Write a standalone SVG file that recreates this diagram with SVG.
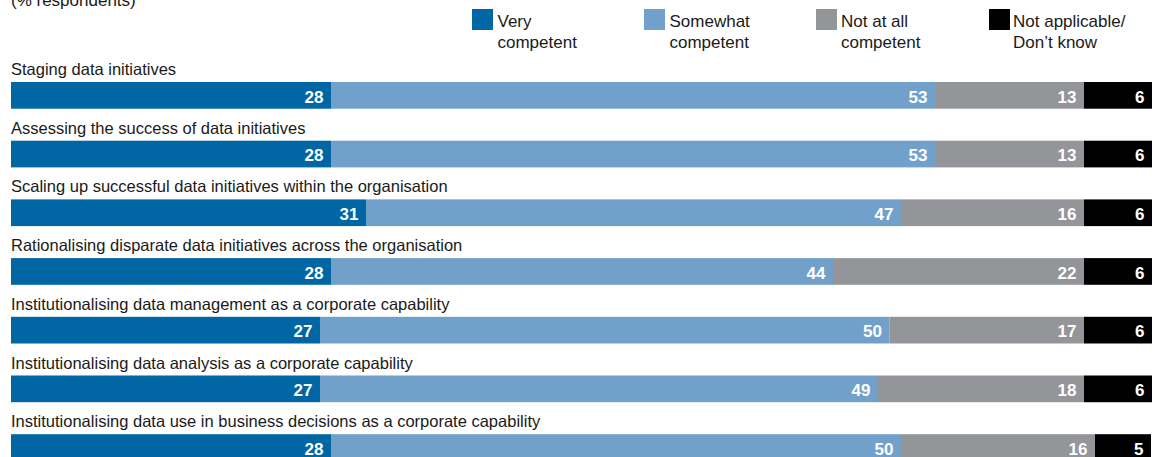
<svg xmlns="http://www.w3.org/2000/svg" width="1160" height="457" viewBox="0 0 1160 457">
<style>
text{font-family:"Liberation Sans",Arial,sans-serif}
.lab{font-size:17px;fill:#1a1a1a}
.row{font-size:16.5px;fill:#1a1a1a}
.num{font-size:17px;font-weight:bold;fill:#ffffff;text-anchor:end}
.c1{fill:#0066a4}.c2{fill:#71a1cb}.c3{fill:#939598}.c4{fill:#000000}
</style>
<rect width="1160" height="457" fill="#ffffff"/>
<text class="lab" x="11" y="6">(% respondents)</text>
<g id="legend">
<rect class="c1" x="472" y="9" width="21" height="21"/>
<text class="lab" x="497.5" y="26.5">Very</text><text class="lab" x="497.5" y="47.5">competent</text>
<rect class="c2" x="644" y="9" width="21" height="21"/>
<text class="lab" x="669.5" y="26.5">Somewhat</text><text class="lab" x="669.5" y="47.5">competent</text>
<rect class="c3" x="816" y="9" width="21" height="21"/>
<text class="lab" x="841" y="26.5">Not at all</text><text class="lab" x="841" y="47.5">competent</text>
<rect class="c4" x="989" y="9" width="21" height="21"/>
<text class="lab" x="1013" y="26.5">Not applicable/</text><text class="lab" x="1013" y="47.5">Don’t know</text>
</g>
<g id="row1">
<text class="row" x="11" y="75">Staging data initiatives</text>
<rect class="c1" x="11" y="82" width="320" height="26.7"/>
<rect class="c2" x="331" y="82" width="604" height="26.7"/>
<rect class="c3" x="935" y="82" width="149" height="26.7"/>
<rect class="c4" x="1084" y="82" width="68" height="26.7"/>
<text class="num" x="323.5" y="102.5">28</text><text class="num" x="927.5" y="102.5">53</text><text class="num" x="1076.5" y="102.5">13</text><text class="num" x="1144.5" y="102.5">6</text>
</g>
<g id="row2">
<text class="row" x="11" y="133.7">Assessing the success of data initiatives</text>
<rect class="c1" x="11" y="140.7" width="320" height="26.7"/>
<rect class="c2" x="331" y="140.7" width="604" height="26.7"/>
<rect class="c3" x="935" y="140.7" width="149" height="26.7"/>
<rect class="c4" x="1084" y="140.7" width="68" height="26.7"/>
<text class="num" x="323.5" y="161.2">28</text><text class="num" x="927.5" y="161.2">53</text><text class="num" x="1076.5" y="161.2">13</text><text class="num" x="1144.5" y="161.2">6</text>
</g>
<g id="row3">
<text class="row" x="11" y="192.4">Scaling up successful data initiatives within the organisation</text>
<rect class="c1" x="11" y="199.4" width="355" height="26.7"/>
<rect class="c2" x="366" y="199.4" width="535" height="26.7"/>
<rect class="c3" x="901" y="199.4" width="183" height="26.7"/>
<rect class="c4" x="1084" y="199.4" width="68" height="26.7"/>
<text class="num" x="358.5" y="219.9">31</text><text class="num" x="893.5" y="219.9">47</text><text class="num" x="1076.5" y="219.9">16</text><text class="num" x="1144.5" y="219.9">6</text>
</g>
<g id="row4">
<text class="row" x="11" y="251.1">Rationalising disparate data initiatives across the organisation</text>
<rect class="c1" x="11" y="258.1" width="320" height="26.7"/>
<rect class="c2" x="331" y="258.1" width="502" height="26.7"/>
<rect class="c3" x="833" y="258.1" width="251" height="26.7"/>
<rect class="c4" x="1084" y="258.1" width="68" height="26.7"/>
<text class="num" x="323.5" y="278.6">28</text><text class="num" x="825.5" y="278.6">44</text><text class="num" x="1076.5" y="278.6">22</text><text class="num" x="1144.5" y="278.6">6</text>
</g>
<g id="row5">
<text class="row" x="11" y="309.8">Institutionalising data management as a corporate capability</text>
<rect class="c1" x="11" y="316.8" width="309" height="26.7"/>
<rect class="c2" x="320" y="316.8" width="569.5" height="26.7"/>
<rect class="c3" x="889.5" y="316.8" width="194.5" height="26.7"/>
<rect class="c4" x="1084" y="316.8" width="68" height="26.7"/>
<text class="num" x="312.5" y="337.3">27</text><text class="num" x="882" y="337.3">50</text><text class="num" x="1076.5" y="337.3">17</text><text class="num" x="1144.5" y="337.3">6</text>
</g>
<g id="row6">
<text class="row" x="11" y="368.5">Institutionalising data analysis as a corporate capability</text>
<rect class="c1" x="11" y="375.5" width="309" height="26.7"/>
<rect class="c2" x="320" y="375.5" width="558" height="26.7"/>
<rect class="c3" x="878" y="375.5" width="206" height="26.7"/>
<rect class="c4" x="1084" y="375.5" width="68" height="26.7"/>
<text class="num" x="312.5" y="396">27</text><text class="num" x="870.5" y="396">49</text><text class="num" x="1076.5" y="396">18</text><text class="num" x="1144.5" y="396">6</text>
</g>
<g id="row7">
<text class="row" x="11" y="427.2">Institutionalising data use in business decisions as a corporate capability</text>
<rect class="c1" x="11" y="434.2" width="320" height="26.7"/>
<rect class="c2" x="331" y="434.2" width="570" height="26.7"/>
<rect class="c3" x="901" y="434.2" width="194" height="26.7"/>
<rect class="c4" x="1095" y="434.2" width="56" height="26.7"/>
<text class="num" x="323.5" y="454.7">28</text><text class="num" x="893.5" y="454.7">50</text><text class="num" x="1087.5" y="454.7">16</text><text class="num" x="1143.5" y="454.7">5</text>
</g>
</svg>
